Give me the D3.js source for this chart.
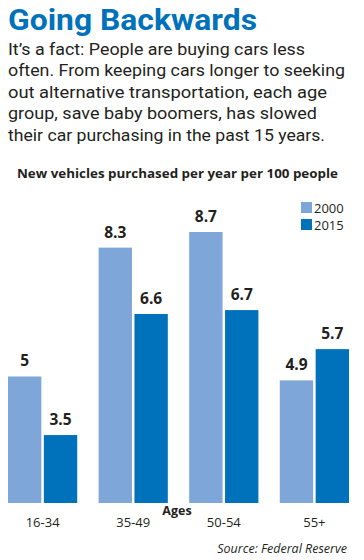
<!DOCTYPE html>
<html>
<head>
<meta charset="utf-8">
<script src="https://cdn.jsdelivr.net/npm/d3@7.9.0/dist/d3.min.js"></script>
<style>
  html, body { margin: 0; padding: 0; background: #fff; }
  svg { display: block; font-family: "Open Sans", sans-serif; }
</style>
</head>
<body>
<div id="chart"></div>
<script>
const ageGroups = ["16-34", "35-49", "50-54", "55+"];
const years = ["2000", "2015"];
const values2000 = [5, 8.3, 8.7, 4.9];
const values2015 = [3.5, 6.6, 6.7, 5.7];
const introLines = [
    "It\u2019s a fact: People are buying cars less",
    "often. From keeping cars longer to seeking",
    "out alternative transportation, each age",
    "group, save baby boomers, has slowed",
    "their car purchasing in the past 15 years."
];
const introWidths = [297, 337, 319, 309, 317];

const width = 364;
const height = 560;
const ink = "#231f20";
const colors = { "2000": "#7fa6d9", "2015": "#0071bb" };

const rows = ageGroups.map((g, i) => ({ group: g, "2000": values2000[i], "2015": values2015[i] }));

const svg = d3.select("#chart")
    .append("svg")
    .attr("width", width)
    .attr("height", height)
    .attr("viewBox", `0 0 ${width} ${height}`);

// header
svg.append("text")
    .attr("x", 8)
    .attr("y", 30)
    .attr("fill", "#0071bb")
    .attr("font-family", "Roboto, sans-serif")
    .attr("font-size", 30)
    .attr("font-weight", 700)
    .attr("textLength", 249)
    .attr("lengthAdjust", "spacingAndGlyphs")
    .text("Going Backwards");

svg.append("g")
    .selectAll("text")
    .data(introLines)
    .join("text")
    .attr("x", 8)
    .attr("y", (d, i) => 54.5 + i * 21.6)
    .attr("fill", ink)
    .attr("font-family", "Roboto, sans-serif")
    .attr("font-size", 17)
    .attr("textLength", (d, i) => introWidths[i])
    .attr("lengthAdjust", "spacingAndGlyphs")
    .text(d => d);

svg.append("text")
    .attr("x", 17)
    .attr("y", 178)
    .attr("fill", ink)
    .attr("font-size", 13)
    .attr("font-weight", 700)
    .attr("textLength", 321)
    .attr("lengthAdjust", "spacingAndGlyphs")
    .text("New vehicles purchased per year per 100 people");

// scales
const x0 = d3.scaleBand()
    .domain(ageGroups)
    .range([8, 349])
    .paddingInner(0.236)
    .paddingOuter(0);

const x1 = d3.scaleBand()
    .domain(years)
    .range([0, x0.bandwidth()])
    .paddingInner(0.07);

// axis does not start at zero in the original
const y = d3.scaleLinear()
    .domain([1.76, 8.7])
    .range([503, 232]);

const groups = svg.append("g")
    .selectAll("g")
    .data(rows)
    .join("g")
    .attr("transform", d => `translate(${x0(d.group)},0)`);

groups.selectAll("rect")
    .data(d => years.map(k => ({ key: k, value: d[k] })))
    .join("rect")
    .attr("x", d => x1(d.key))
    .attr("y", d => y(d.value))
    .attr("width", x1.bandwidth())
    .attr("height", d => y.range()[0] - y(d.value))
    .attr("fill", d => colors[d.key]);

groups.selectAll("text.val")
    .data(d => years.map(k => ({ key: k, value: d[k] })))
    .join("text")
    .attr("class", "val")
    .attr("x", d => x1(d.key) + x1.bandwidth() / 2)
    .attr("y", d => y(d.value) - 10)
    .attr("text-anchor", "middle")
    .attr("fill", ink)
    .attr("font-size", 15.5)
    .attr("font-weight", 700)
    .text(d => d.value);

// x axis labels
const xAxis = d3.axisBottom(x0).tickSize(0).tickPadding(0);
const axisG = svg.append("g")
    .attr("transform", "translate(0,515)")
    .call(xAxis);
axisG.select(".domain").remove();
axisG.selectAll("text")
    .attr("dy", 0)
    .attr("y", 12)
    .attr("fill", ink)
    .attr("font-size", 13)
    .attr("font-family", "Open Sans, sans-serif");

svg.append("text")
    .attr("x", 177)
    .attr("y", 515)
    .attr("text-anchor", "middle")
    .attr("fill", ink)
    .attr("font-size", 12.5)
    .attr("font-weight", 700)
    .text("Ages");

// legend
const legend = svg.append("g")
    .selectAll("g")
    .data(years)
    .join("g")
    .attr("transform", (d, i) => `translate(301,${202 + i * 17})`);

legend.append("rect")
    .attr("width", 11)
    .attr("height", 11)
    .attr("fill", d => colors[d]);

legend.append("text")
    .attr("x", 13)
    .attr("y", 10.5)
    .attr("fill", ink)
    .attr("font-size", 13)
    .text(d => d);

svg.append("text")
    .attr("x", 347)
    .attr("y", 553)
    .attr("text-anchor", "end")
    .attr("fill", ink)
    .attr("font-size", 12.5)
    .attr("font-style", "italic")
    .text("Source: Federal Reserve");
</script>
</body>
</html>
